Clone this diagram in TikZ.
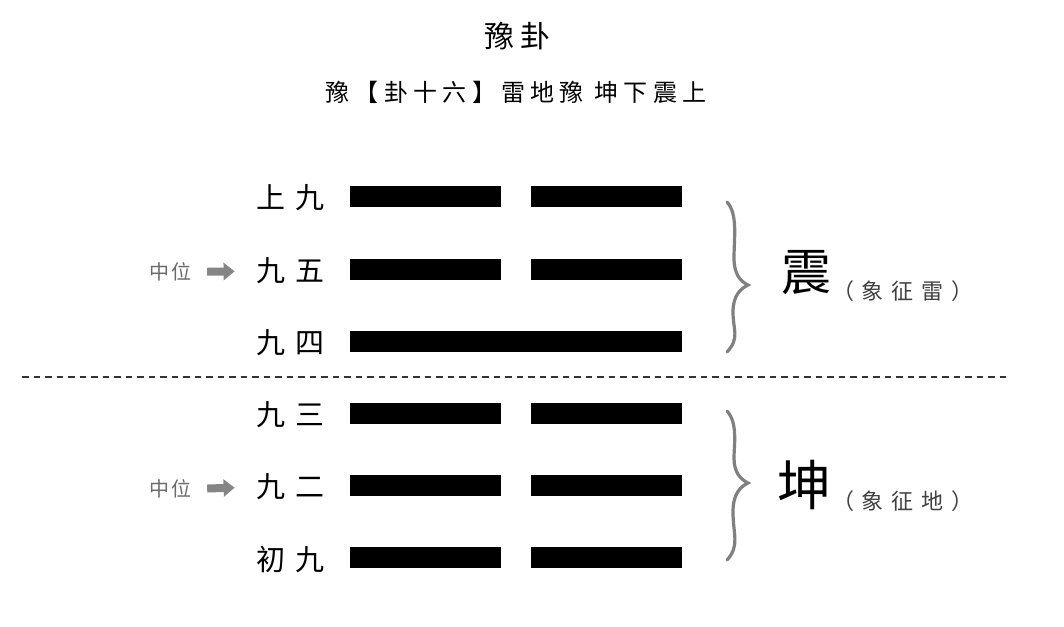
\documentclass[tikz,border=0pt]{standalone}
\usepackage{fontspec}
\setmainfont{Noto Sans CJK SC}
\usetikzlibrary{arrows.meta}
\definecolor{notegray}{HTML}{6A6A6A}
\definecolor{arrowgray}{HTML}{858585}
\definecolor{bracegray}{HTML}{808080}
\newcommand{\yg}{\hspace{10pt}}
\begin{document}
\begin{tikzpicture}[x=1pt,y=-1pt,
  bar/.style={fill=black, minimum width=151pt, minimum height=21pt, inner sep=0pt, draw=none},
  solidbar/.style={bar, minimum width=332pt},
  yao/.style={font=\fontsize{29}{29}\selectfont, anchor=east, inner sep=0pt},
  note/.style={font=\fontsize{20}{20}\selectfont\addfontfeature{LetterSpace=10}, text=notegray, inner sep=0pt},
  gua/.style={inner sep=0pt},
  xiang/.style={font=\fontsize{22}{22}\selectfont\addfontfeature{LetterSpace=35}, text=black!75, inner sep=0pt},
  brc/.style={draw=bracegray, line width=3.2pt, line cap=round},
  pointer/.style={draw=arrowgray, line width=8pt, -{Triangle[length=11pt,width=17pt]}, shorten <=16pt, shorten >=22pt},
  sep/.style={draw=black!80, line width=2pt, dash pattern=on 6.5pt off 5pt}
]
\useasboundingbox (0,0) rectangle (1064,626);
\fill[white] (0,0) rectangle (1064,626);

\node[font=\fontsize{30}{30}\selectfont\addfontfeature{LetterSpace=20}, inner sep=0pt] (title) at (517,36) {豫卦};
\node[font=\fontsize{24}{24}\selectfont\addfontfeature{LetterSpace=22}, inner sep=0pt] (sub) at (516,92) {豫【卦十六】雷地豫 坤下震上};

% bars
\node[bar] (b6l) at (425.5,196) {};
\node[bar] (b6r) at (606,196) {};
\node[bar] (b5l) at (425.5,269) {};
\node[bar] (b5r) at (606,269) {};
\node[solidbar] (b4) at (516,341) {};
\node[bar] (b3l) at (425.5,413) {};
\node[bar] (b3r) at (606,413) {};
\node[bar] (b2l) at (425.5,485) {};
\node[bar] (b2r) at (606,485) {};
\node[bar] (b1l) at (425.5,557) {};
\node[bar] (b1r) at (606,557) {};

% line labels
\node[yao] (l6) at (325,198) {上\yg 九};
\node[yao] (l5) at (325,271) {九\yg 五};
\node[yao] (l4) at (325,343) {九\yg 四};
\node[yao] (l3) at (325,415) {九\yg 三};
\node[yao] (l2) at (325,487) {九\yg 二};
\node[yao] (l1) at (325,559) {初\yg 九};

% middle position notes
\node[note] (z5) at (170,272) {中位};
\node[note] (z2) at (170,489) {中位};
\draw[pointer] (z5.east) -- (l5.west);
\draw[pointer] (z2.east) -- (l2.west);

% separator
\coordinate (sepL) at (22,377);
\coordinate (sepR) at (1008,377);
\draw[sep] (sepL) -- (sepR);

% braces
\draw[brc] (727,202) .. controls (738,214) and (734,238) .. (734,258)
  .. controls (734,274) and (740,281) .. (748,285)
  .. controls (740,289) and (733,296) .. (733,312)
  .. controls (733,330) and (740,338) .. (727,352);
\draw[brc] (727,411) .. controls (738,423) and (734,445) .. (734,458)
  .. controls (734,472) and (740,479) .. (748,483)
  .. controls (740,487) and (733,494) .. (733,512)
  .. controls (733,534) and (740,546) .. (727,560);

% trigram names
\node[gua, font=\fontsize{50}{50}\selectfont] (zhen) at (806,273) {震};
\node[xiang, anchor=west] (zx) at (832,291) {（象征雷）};
\node[gua, font=\fontsize{54}{54}\selectfont] (kun) at (804,485) {坤};
\node[xiang, anchor=west] (kx) at (832,501) {（象征地）};
\end{tikzpicture}
\end{document}
